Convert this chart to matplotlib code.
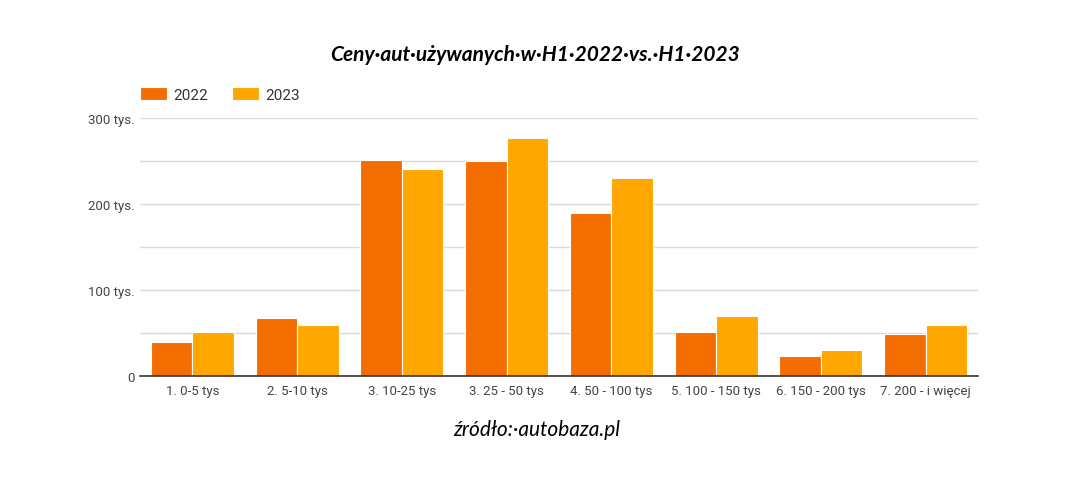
import matplotlib
matplotlib.use("Agg")
import matplotlib.pyplot as plt
import numpy as np

categories = ["1. 0-5 tys", "2. 5-10 tys", "3. 10-25 tys", "3. 25 - 50 tys",
              "4. 50 - 100 tys", "5. 100 - 150 tys", "6. 150 - 200 tys", "7. 200 - i więcej"]
v2022 = [40, 68, 251, 250, 189, 51, 23, 49]
v2023 = [51, 59, 241, 277, 230, 70, 30, 59]
yticks = [0, 100, 200, 300]
ytick_labels = ["0", "100 tys.", "200 tys.", "300 tys."]

c2022 = "#F46D00"
c2023 = "#FFA700"

plt.rcParams['font.family'] = ['Roboto', 'DejaVu Sans']

fig = plt.figure(figsize=(10.83, 4.85), dpi=100)
ax = fig.add_axes([140 / 1083, 1 - 377 / 485, 838 / 1083, 258 / 485])

x = np.arange(len(categories))
w = 0.395
ax.bar(x - w / 2, v2022, w, color=c2022, edgecolor="white", linewidth=0.8, label="2022", zorder=3)
ax.bar(x + w / 2, v2023, w, color=c2023, edgecolor="white", linewidth=0.8, label="2023", zorder=3)

ax.set_xlim(-0.5, len(categories) - 0.5)
ax.set_ylim(0, 300)
ax.set_yticks(yticks)
ax.set_yticklabels(ytick_labels)
ax.set_yticks([50, 150, 250], minor=True)
ax.grid(axis="y", which="both", color="#DADADA", linewidth=1, zorder=0)
ax.set_xticks(x)
ax.set_xticklabels(categories)
ax.tick_params(axis="both", length=0, labelsize=9.5, colors="#444444")
ax.tick_params(axis="y", which="minor", length=0)
ax.tick_params(axis="x", pad=6)
ax.tick_params(axis="y", pad=4)
for s in ["top", "right", "left"]:
    ax.spines[s].set_visible(False)
ax.spines["bottom"].set_color("#333333")
ax.spines["bottom"].set_linewidth(1.2)
ax.spines["bottom"].set_zorder(4)

fig.legend(loc="upper left", bbox_to_anchor=(140 / 1083, 1 - 88 / 485), ncol=2, frameon=False,
           fontsize=11, handlelength=1.75, handleheight=0.95, columnspacing=1.6, handletextpad=0.4,
           borderpad=0, borderaxespad=0, labelcolor="#333333")

fig.text(535 / 1083, 1 - 55 / 485, "Ceny·aut·używanych·w·H1·2022·vs.·H1·2023",
         ha="center", va="center", fontsize=15, fontweight="bold", fontstyle="italic",
         family=["Lato", "DejaVu Sans"], color="black")
fig.text(537 / 1083, 1 - 430 / 485, "źródło:·autobaza.pl",
         ha="center", va="center", fontsize=15, fontstyle="italic",
         family=["Lato", "DejaVu Sans"], color="black")

fig.savefig("out.png", dpi=100, facecolor="white")
